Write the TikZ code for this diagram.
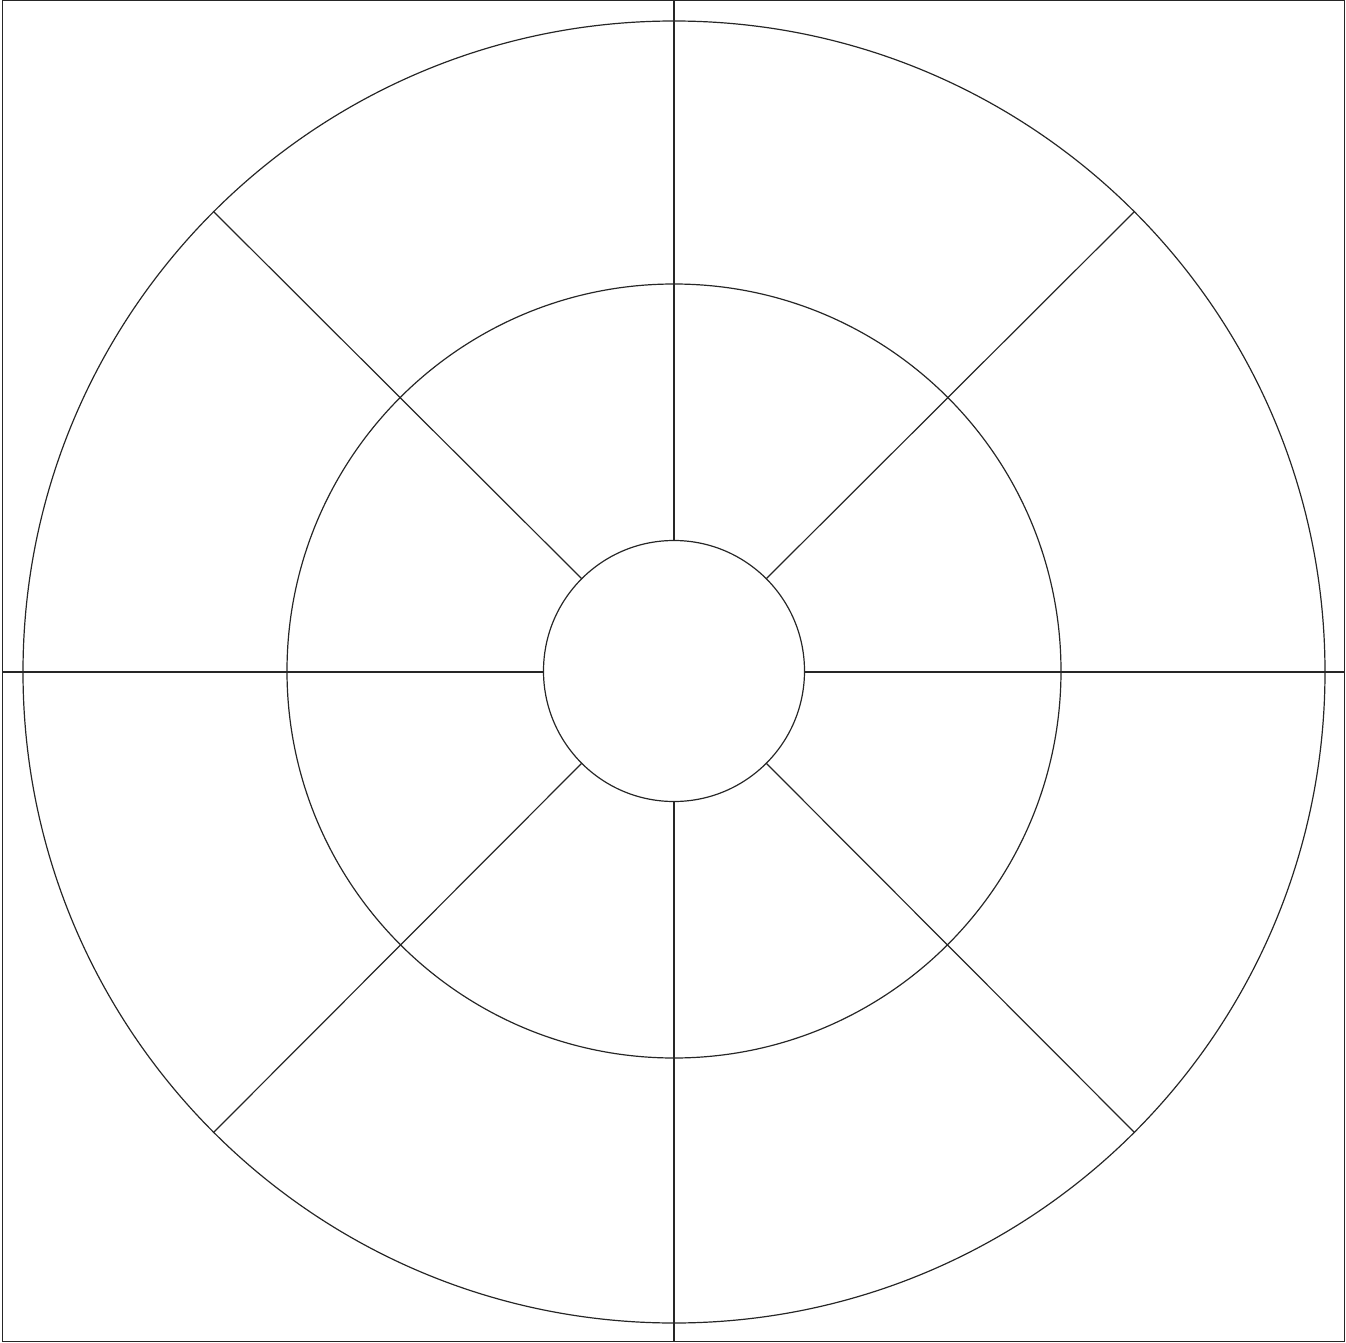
\documentclass[tikz,border=0pt]{standalone}
\usetikzlibrary{calc}
\begin{document}
\begin{tikzpicture}[x=0.5pt,y=-0.5pt,
  ring/.style={draw=black!85,line width=0.6pt,circle,inner sep=0pt,outer sep=0pt},
  spoke/.style={draw=black!85,line width=0.6pt}]
\useasboundingbox (0,0) rectangle (1346,1343);
\node[draw=black!85,line width=0.7pt,rectangle,inner sep=0pt,outer sep=0pt,minimum width=1342*0.5pt,minimum height=1341*0.5pt] (box) at (673.5,671) {};
\node[ring,minimum size=1302*0.5pt] (outer) at (674,672) {};
\node[ring,minimum size=774*0.5pt] (middle) at (674,671) {};
\node[ring,minimum size=261*0.5pt] (inner) at (674,671) {};
% vertical and horizontal spokes
\draw[spoke] (box.north -| inner.north) -- (inner.north);
\draw[spoke] (inner.south) -- (box.south -| inner.south);
\draw[spoke] (box.west |- outer.center) -- (inner.west |- outer.center);
\draw[spoke] (inner.east |- outer.center) -- (box.east |- outer.center);
% diagonal spokes
\foreach \a in {45,135,225,315}{
  \draw[spoke] (inner.\a) -- (outer.\a);
}
\end{tikzpicture}
\end{document}
